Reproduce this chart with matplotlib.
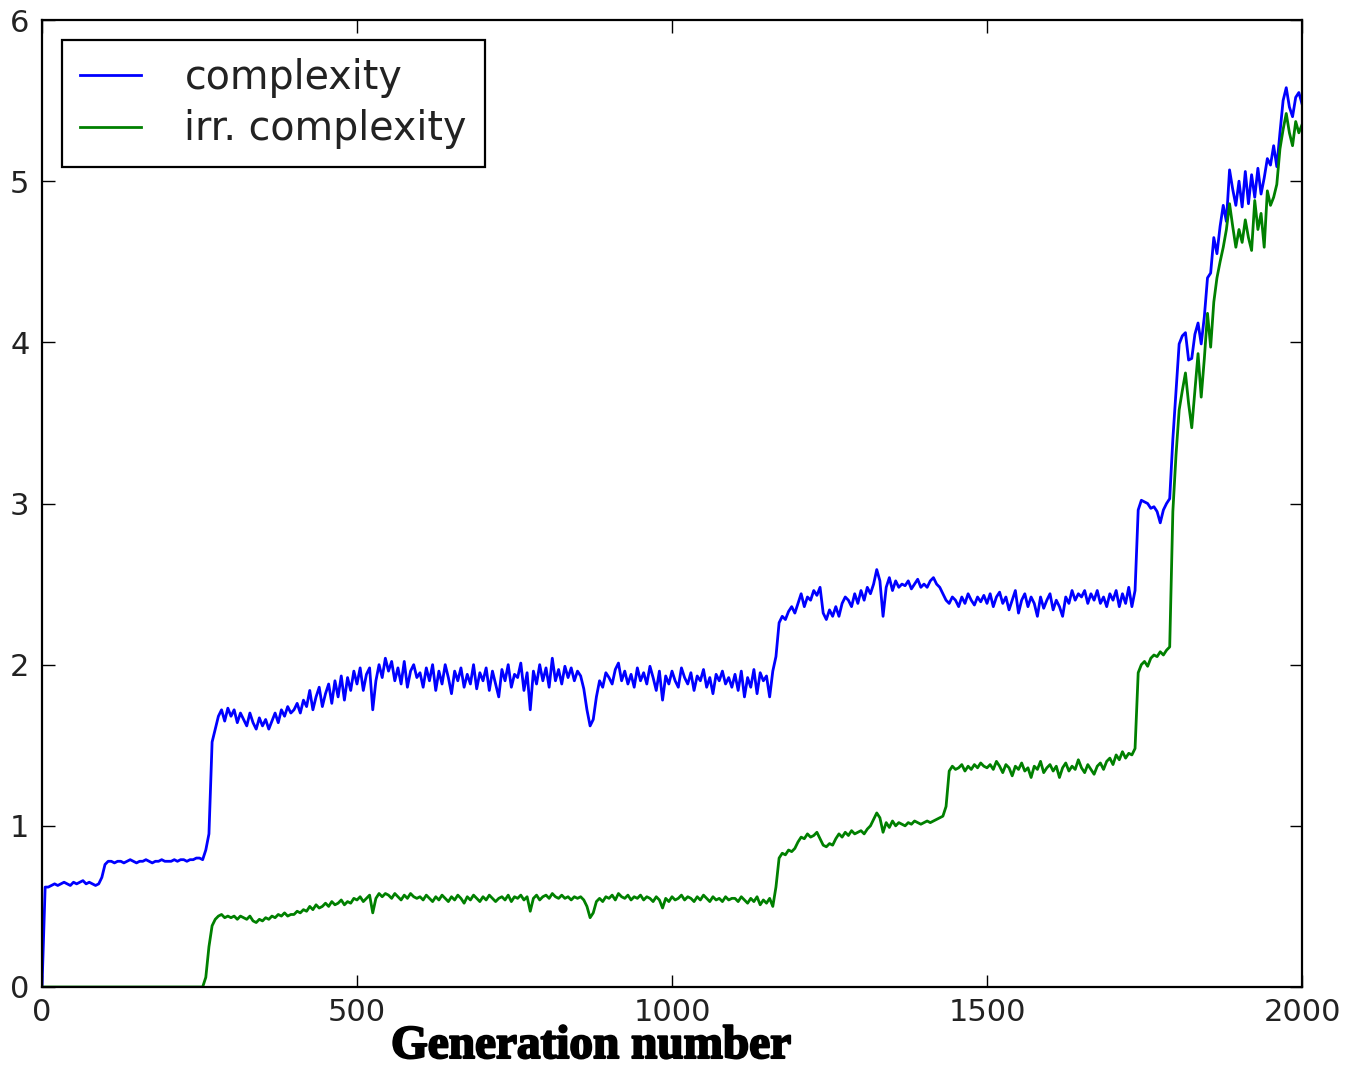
import matplotlib
matplotlib.use("Agg")
import matplotlib.pyplot as plt
import matplotlib.patheffects as pe
import numpy as np

# generations, sampled every 5
gens = np.arange(0, 2001, 5)

complexity = [
    0.00, 0.62, 0.62, 0.63, 0.64, 0.63, 0.64, 0.65, 0.64, 0.63, 0.65, 0.64, 0.65, 0.66, 0.64, 0.65, 0.64, 0.63, 0.64, 0.68,
    0.76, 0.78, 0.78, 0.77, 0.78, 0.78, 0.77, 0.78, 0.79, 0.78, 0.77, 0.78, 0.78, 0.79, 0.78, 0.77, 0.78, 0.78, 0.79, 0.78,
    0.78, 0.78, 0.79, 0.78, 0.79, 0.79, 0.78, 0.79, 0.79, 0.80, 0.80, 0.79, 0.85, 0.95, 1.52, 1.60, 1.68, 1.72, 1.65, 1.73,
    1.68, 1.72, 1.64, 1.70, 1.66, 1.62, 1.70, 1.64, 1.60, 1.67, 1.62, 1.66, 1.60, 1.65, 1.70, 1.64, 1.72, 1.68, 1.74, 1.70,
    1.72, 1.76, 1.70, 1.78, 1.74, 1.84, 1.72, 1.80, 1.86, 1.74, 1.82, 1.88, 1.76, 1.90, 1.80, 1.93, 1.78, 1.92, 1.84, 1.96,
    1.88, 1.98, 1.84, 1.94, 1.98, 1.72, 1.90, 2.00, 1.92, 2.04, 1.96, 2.02, 1.90, 1.98, 1.88, 2.02, 1.86, 1.96, 2.00, 1.92,
    1.95, 1.86, 1.98, 1.90, 2.00, 1.84, 1.96, 1.88, 2.00, 1.92, 1.82, 1.96, 1.90, 1.98, 1.86, 1.94, 1.88, 2.00, 1.85, 1.95,
    1.90, 1.98, 1.84, 1.96, 1.88, 1.80, 1.97, 1.90, 2.00, 1.86, 1.94, 1.92, 2.01, 1.84, 1.95, 1.72, 1.96, 1.88, 2.00, 1.90,
    1.98, 1.86, 2.04, 1.90, 1.97, 1.88, 1.99, 1.92, 1.98, 1.90, 1.96, 1.93, 1.85, 1.72, 1.62, 1.66, 1.80, 1.90, 1.86, 1.95,
    1.92, 1.88, 1.97, 2.01, 1.90, 1.96, 1.88, 1.94, 1.86, 1.98, 1.90, 1.95, 1.88, 1.99, 1.92, 1.84, 1.96, 1.78, 1.93, 1.88,
    1.96, 1.90, 1.86, 1.98, 1.92, 1.88, 1.95, 1.84, 1.93, 1.90, 1.97, 1.86, 1.92, 1.82, 1.94, 1.90, 1.96, 1.88, 1.92, 1.86,
    1.94, 1.84, 1.96, 1.80, 1.92, 1.86, 1.97, 1.82, 1.95, 1.90, 1.93, 1.80, 1.96, 2.05, 2.26, 2.30, 2.28, 2.33, 2.36, 2.32,
    2.38, 2.44, 2.36, 2.42, 2.40, 2.46, 2.43, 2.48, 2.32, 2.28, 2.34, 2.30, 2.36, 2.30, 2.38, 2.42, 2.40, 2.36, 2.44, 2.38,
    2.46, 2.40, 2.48, 2.44, 2.50, 2.59, 2.52, 2.30, 2.48, 2.54, 2.46, 2.52, 2.48, 2.50, 2.49, 2.52, 2.47, 2.50, 2.53, 2.48,
    2.50, 2.48, 2.52, 2.54, 2.50, 2.48, 2.44, 2.40, 2.38, 2.42, 2.40, 2.36, 2.42, 2.38, 2.44, 2.40, 2.37, 2.42, 2.39, 2.43,
    2.38, 2.44, 2.36, 2.42, 2.45, 2.38, 2.42, 2.34, 2.40, 2.46, 2.32, 2.40, 2.44, 2.36, 2.42, 2.38, 2.30, 2.42, 2.35, 2.40,
    2.44, 2.34, 2.40, 2.36, 2.30, 2.42, 2.38, 2.46, 2.40, 2.44, 2.42, 2.46, 2.38, 2.44, 2.40, 2.46, 2.38, 2.42, 2.36, 2.44,
    2.40, 2.46, 2.36, 2.44, 2.38, 2.48, 2.36, 2.46, 2.96, 3.02, 3.01, 3.00, 2.97, 2.98, 2.95, 2.88, 2.96, 3.00, 3.03, 3.40,
    3.70, 3.99, 4.04, 4.06, 3.89, 3.90, 4.05, 4.12, 3.99, 4.16, 4.40, 4.43, 4.65, 4.55, 4.72, 4.85, 4.75, 5.07, 4.95, 4.85,
    5.00, 4.84, 5.06, 4.86, 5.04, 4.90, 5.08, 4.92, 5.02, 5.14, 5.10, 5.22, 5.09, 5.30, 5.50, 5.58, 5.46, 5.40, 5.52, 5.55,
    5.48,
]

irr_complexity = [
    0.00, 0.00, 0.00, 0.00, 0.00, 0.00, 0.00, 0.00, 0.00, 0.00, 0.00, 0.00, 0.00, 0.00, 0.00, 0.00, 0.00, 0.00, 0.00, 0.00,
    0.00, 0.00, 0.00, 0.00, 0.00, 0.00, 0.00, 0.00, 0.00, 0.00, 0.00, 0.00, 0.00, 0.00, 0.00, 0.00, 0.00, 0.00, 0.00, 0.00,
    0.00, 0.00, 0.00, 0.00, 0.00, 0.00, 0.00, 0.00, 0.00, 0.00, 0.00, 0.00, 0.06, 0.25, 0.38, 0.42, 0.44, 0.45, 0.43, 0.44,
    0.43, 0.44, 0.42, 0.44, 0.43, 0.42, 0.44, 0.41, 0.40, 0.42, 0.41, 0.43, 0.42, 0.44, 0.43, 0.45, 0.44, 0.46, 0.44, 0.45,
    0.45, 0.47, 0.46, 0.48, 0.47, 0.50, 0.48, 0.51, 0.49, 0.50, 0.52, 0.50, 0.53, 0.51, 0.52, 0.54, 0.51, 0.53, 0.52, 0.55,
    0.54, 0.56, 0.53, 0.55, 0.57, 0.46, 0.55, 0.58, 0.56, 0.58, 0.57, 0.55, 0.58, 0.56, 0.54, 0.57, 0.55, 0.58, 0.56, 0.55,
    0.56, 0.54, 0.57, 0.55, 0.53, 0.56, 0.54, 0.57, 0.55, 0.53, 0.56, 0.54, 0.57, 0.55, 0.52, 0.56, 0.54, 0.57, 0.55, 0.53,
    0.56, 0.54, 0.57, 0.55, 0.53, 0.55, 0.56, 0.54, 0.57, 0.53, 0.56, 0.55, 0.57, 0.54, 0.56, 0.47, 0.55, 0.57, 0.54, 0.56,
    0.57, 0.55, 0.58, 0.56, 0.55, 0.57, 0.55, 0.56, 0.54, 0.56, 0.55, 0.56, 0.54, 0.50, 0.43, 0.46, 0.53, 0.55, 0.53, 0.56,
    0.55, 0.57, 0.54, 0.58, 0.56, 0.55, 0.57, 0.54, 0.56, 0.55, 0.57, 0.54, 0.56, 0.55, 0.53, 0.56, 0.54, 0.49, 0.55, 0.53,
    0.56, 0.54, 0.55, 0.57, 0.54, 0.56, 0.55, 0.53, 0.56, 0.54, 0.57, 0.55, 0.53, 0.56, 0.54, 0.55, 0.53, 0.56, 0.54, 0.55,
    0.55, 0.53, 0.56, 0.54, 0.52, 0.55, 0.53, 0.56, 0.51, 0.54, 0.52, 0.55, 0.50, 0.62, 0.80, 0.83, 0.82, 0.85, 0.84, 0.86,
    0.90, 0.93, 0.92, 0.95, 0.93, 0.94, 0.96, 0.92, 0.88, 0.87, 0.89, 0.88, 0.92, 0.95, 0.93, 0.96, 0.94, 0.97, 0.95, 0.96,
    0.97, 0.95, 0.98, 1.00, 1.04, 1.08, 1.05, 0.96, 1.02, 0.99, 1.03, 1.00, 1.02, 1.01, 1.00, 1.02, 1.01, 1.03, 1.02, 1.01,
    1.02, 1.03, 1.02, 1.03, 1.04, 1.05, 1.06, 1.12, 1.34, 1.37, 1.35, 1.36, 1.38, 1.34, 1.37, 1.35, 1.38, 1.36, 1.39, 1.37,
    1.36, 1.38, 1.35, 1.40, 1.37, 1.33, 1.38, 1.36, 1.31, 1.37, 1.35, 1.39, 1.34, 1.36, 1.30, 1.37, 1.35, 1.40, 1.33, 1.36,
    1.38, 1.34, 1.37, 1.30, 1.36, 1.39, 1.34, 1.37, 1.35, 1.41, 1.36, 1.33, 1.38, 1.35, 1.32, 1.37, 1.39, 1.35, 1.40, 1.42,
    1.38, 1.44, 1.41, 1.46, 1.42, 1.45, 1.44, 1.48, 1.95, 2.00, 2.02, 1.99, 2.04, 2.06, 2.05, 2.08, 2.06, 2.09, 2.11, 2.95,
    3.30, 3.58, 3.70, 3.81, 3.62, 3.47, 3.70, 3.93, 3.66, 3.90, 4.18, 3.97, 4.25, 4.40, 4.50, 4.59, 4.70, 4.86, 4.72, 4.59,
    4.70, 4.62, 4.76, 4.65, 4.57, 4.88, 4.70, 4.80, 4.59, 4.94, 4.85, 4.90, 4.98, 5.20, 5.32, 5.42, 5.30, 5.22, 5.37, 5.30,
    5.35,
]

x_ticks = [0, 500, 1000, 1500, 2000]
y_ticks = [0, 1, 2, 3, 4, 5, 6]

fig = plt.figure(figsize=(13.47, 10.67), dpi=100)
ax = fig.add_axes([42 / 1347, 1 - 987 / 1067, 1260 / 1347, 967 / 1067])

ax.plot(gens, complexity, color="blue", lw=2.0, label="complexity")
ax.plot(gens, irr_complexity, color="green", lw=2.0, label="irr. complexity")

ax.set_xlim(0, 2000)
ax.set_ylim(0, 6)
ax.set_xticks(x_ticks)
ax.set_yticks(y_ticks)
ax.tick_params(direction="in", length=9, width=1, top=True, right=True,
               labelsize=22, pad=8, colors="black", labelcolor="#222222")
ax.tick_params(axis="y", pad=9)
for sp in ax.spines.values():
    sp.set_linewidth(1.6)

leg = ax.legend(loc="upper left", fancybox=False, framealpha=1,
                edgecolor="black", handlelength=1.55, borderpad=0.45,
                labelspacing=0.3, handletextpad=1.1, borderaxespad=0.5,
                prop={"size": 28.5})
leg.get_frame().set_linewidth(1.6)
for t in leg.get_texts():
    t.set_color("#222222")

fig.text(591 / 1347, 1 - 1047 / 1067, "Generation number", ha="center", va="center",
         family="Liberation Serif", weight="bold", fontsize=34,
         path_effects=[pe.withStroke(linewidth=1.5, foreground="black")])

fig.savefig("out.png", dpi=100)
